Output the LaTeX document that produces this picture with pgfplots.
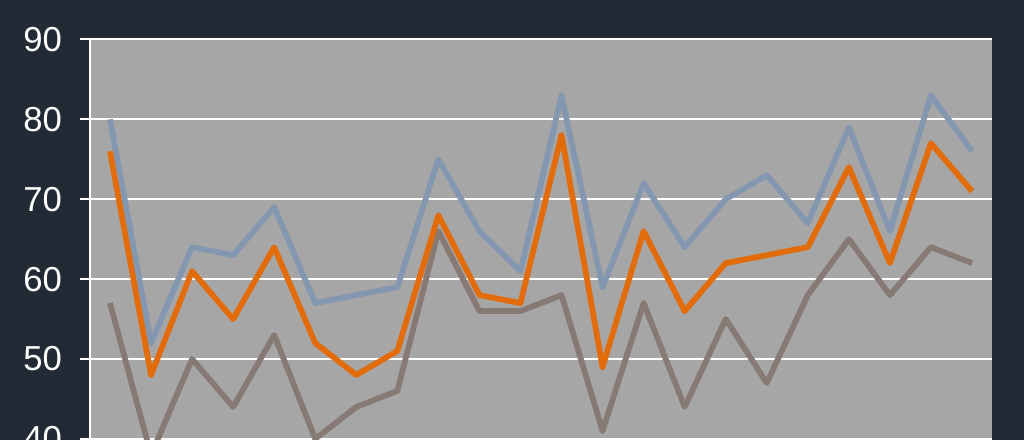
\documentclass[border=0pt]{standalone}
\usepackage{pgfplots}
\pgfplotsset{compat=1.18}
\usepackage{fontspec}
\setmainfont{Liberation Sans}
\usetikzlibrary{backgrounds}

\definecolor{bgdark}{HTML}{222A35}
\definecolor{plotgray}{HTML}{A6A6A6}
\definecolor{seriesblue}{HTML}{8497B0}
\definecolor{seriesorange}{HTML}{E36C0A}
\definecolor{seriesbrown}{HTML}{877A74}

\begin{document}
\begin{tikzpicture}
\begin{axis}[
    scale only axis,
    width=676.5pt,
    height=359.5pt,
    xmin=-0.487, xmax=21.487,
    ymin=30, ymax=90,
    axis x line=none,
    axis y line*=left,
    axis line style={white, line width=1.5pt},
    axis background/.style={fill=plotgray},
    ytick={40,50,...,90},
    ymajorgrids,
    major grid style={white, line width=1.5pt},
    tick align=outside,
    major tick length=7.5pt,
    y tick style={white, line width=1.5pt},
    yticklabel style={font=\fontsize{26}{29}\selectfont, text=white, xshift=-10pt},
    /pgf/number format/assume math mode=true,
    every axis plot/.append style={line width=4.3pt, line join=round, no markers},
]
\addplot[seriesblue] coordinates {
  (0,80) (1,52) (2,64) (3,63) (4,69) (5,57) (6,58) (7,59) (8,75) (9,66) (10,61)
  (11,83) (12,59) (13,72) (14,64) (15,70) (16,73) (17,67) (18,79) (19,66) (20,83) (21,76)};
\addplot[seriesbrown] coordinates {
  (0,57) (1,38) (2,50) (3,44) (4,53) (5,40) (6,44) (7,46) (8,66) (9,56) (10,56)
  (11,58) (12,41) (13,57) (14,44) (15,55) (16,47) (17,58) (18,65) (19,58) (20,64) (21,62)};
\addplot[seriesorange] coordinates {
  (0,76) (1,48) (2,61) (3,55) (4,64) (5,52) (6,48) (7,51) (8,68) (9,58) (10,57)
  (11,78) (12,49) (13,66) (14,56) (15,62) (16,63) (17,64) (18,74) (19,62) (20,77) (21,71)};
\coordinate (tl) at (rel axis cs:0,1);
\coordinate (br) at (axis cs:21.487,40);
\end{axis}
\pgfresetboundingbox
\path[use as bounding box] ([xshift=-67.5pt,yshift=29.6pt]tl) rectangle ([xshift=24pt,yshift=-0.75pt]br);
\begin{scope}[on background layer]
  \fill[bgdark] ([xshift=-67.5pt,yshift=29.6pt]tl) rectangle ([xshift=24pt,yshift=-0.75pt]br);
\end{scope}
\end{tikzpicture}
\end{document}
